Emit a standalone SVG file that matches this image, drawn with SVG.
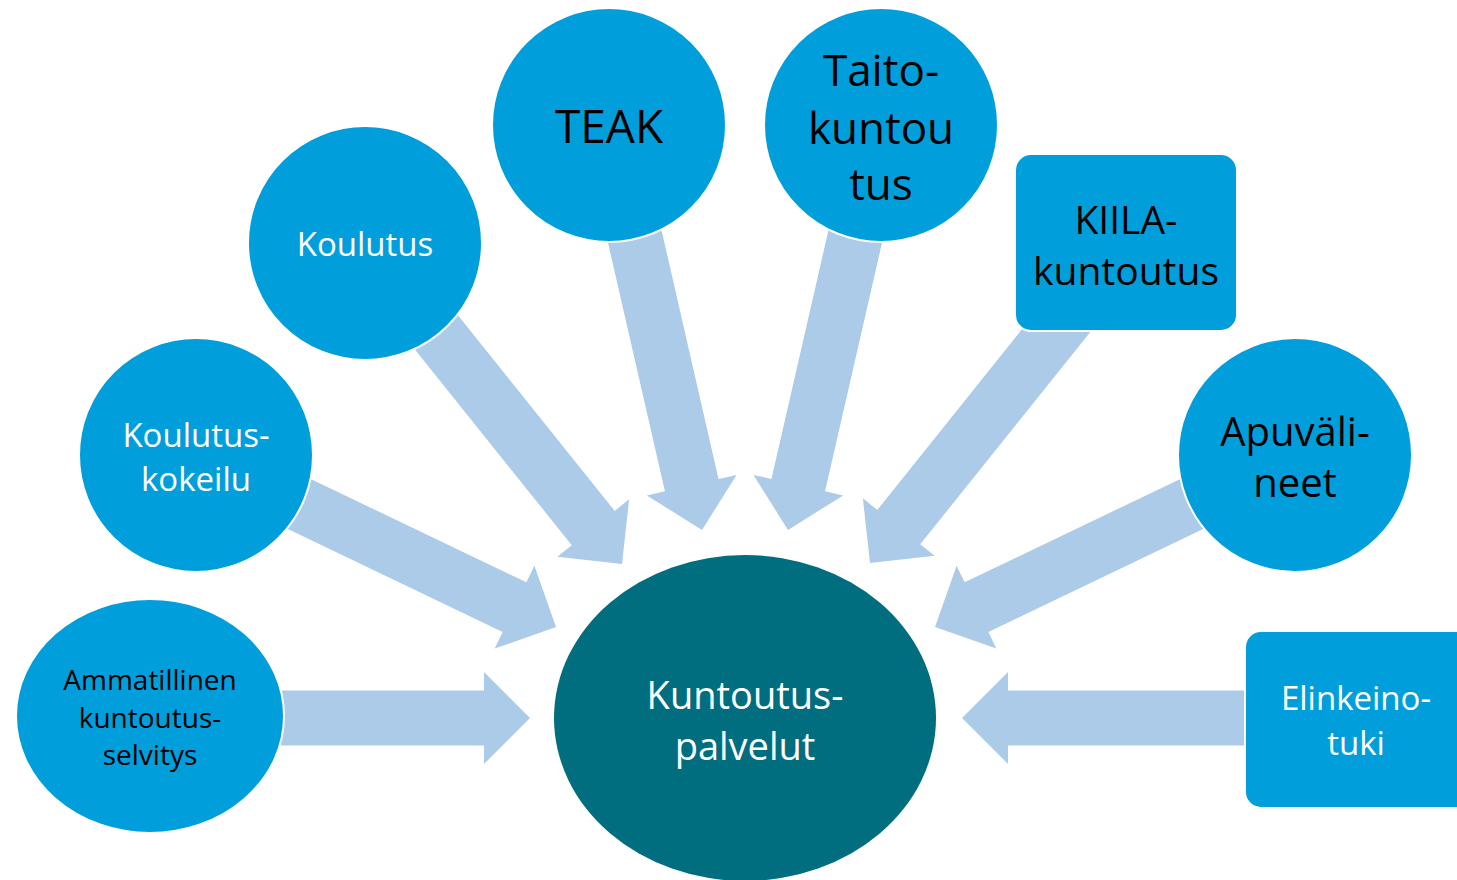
<svg xmlns="http://www.w3.org/2000/svg" width="1457" height="880" viewBox="0 0 1457 880">
<defs>
<style>
.node{fill:#009FDC;stroke:#ffffff;stroke-width:2}
.hub{fill:#006E7F}
.arr{fill:#ABCBE9}
text{font-family:"Open Sans","Noto Sans","Liberation Sans",sans-serif;text-anchor:middle}
.w{fill:#ffffff}
.b{fill:#000000}
</style>
<path id="arrow" d="M-320,-27.5 L-46,-27.5 L-46,-46 L0,0 L-46,46 L-46,27.5 L-320,27.5 Z"/>
</defs>
<rect width="1457" height="880" fill="#ffffff"/>
<g id="connectors" class="arr">
<use href="#arrow" transform="translate(530,718) rotate(0)"/>
<use href="#arrow" transform="translate(556,627) rotate(25.6)"/>
<use href="#arrow" transform="translate(622,564) rotate(51.3)"/>
<use href="#arrow" transform="translate(702,530) rotate(77.1)"/>
<use href="#arrow" transform="translate(788,530) rotate(102.9)"/>
<use href="#arrow" transform="translate(870,563) rotate(128.7)"/>
<use href="#arrow" transform="translate(935,627) rotate(154.4)"/>
<use href="#arrow" transform="translate(962,718) rotate(180)"/>
</g>
<g id="hub">
<ellipse class="hub" cx="745" cy="718" rx="191" ry="163"/>
<text class="w" x="745" y="709" font-size="38">Kuntoutus-</text>
<text class="w" x="745" y="760" font-size="38">palvelut</text>
</g>
<g id="ammatillinen">
<ellipse class="node" cx="150" cy="716" rx="134" ry="117"/>
<text class="b" x="150" y="690" font-size="28">Ammatillinen</text>
<text class="b" x="150" y="728" font-size="28">kuntoutus-</text>
<text class="b" x="150" y="765" font-size="28">selvitys</text>
</g>
<g id="koulutuskokeilu">
<circle class="node" cx="196" cy="455" r="117"/>
<text class="w" x="196" y="447" font-size="33">Koulutus-</text>
<text class="w" x="196" y="491" font-size="33">kokeilu</text>
</g>
<g id="koulutus">
<circle class="node" cx="365" cy="243" r="117"/>
<text class="w" x="365" y="256" font-size="33">Koulutus</text>
</g>
<g id="teak">
<circle class="node" cx="609" cy="125" r="117"/>
<text class="b" x="609" y="143" font-size="46">TEAK</text>
</g>
<g id="taitokuntoutus">
<circle class="node" cx="881" cy="125" r="117"/>
<text class="b" x="881" y="86" font-size="44">Taito-</text>
<text class="b" x="881" y="144" font-size="44">kuntou</text>
<text class="b" x="881" y="200" font-size="44">tus</text>
</g>
<g id="kiila">
<rect class="node" x="1015" y="154" width="222" height="177" rx="16"/>
<text class="b" x="1126" y="234" font-size="39">KIILA-</text>
<text class="b" x="1126" y="285" font-size="39">kuntoutus</text>
</g>
<g id="apuvalineet">
<circle class="node" cx="1295" cy="455" r="117"/>
<text class="b" x="1295" y="446" font-size="40">Apuväli-</text>
<text class="b" x="1295" y="497" font-size="40">neet</text>
</g>
<g id="elinkeinotuki">
<rect class="node" x="1245" y="631" width="230" height="177" rx="16"/>
<text class="w" x="1356" y="710" font-size="33">Elinkeino-</text>
<text class="w" x="1356" y="755" font-size="33">tuki</text>
</g>
</svg>
